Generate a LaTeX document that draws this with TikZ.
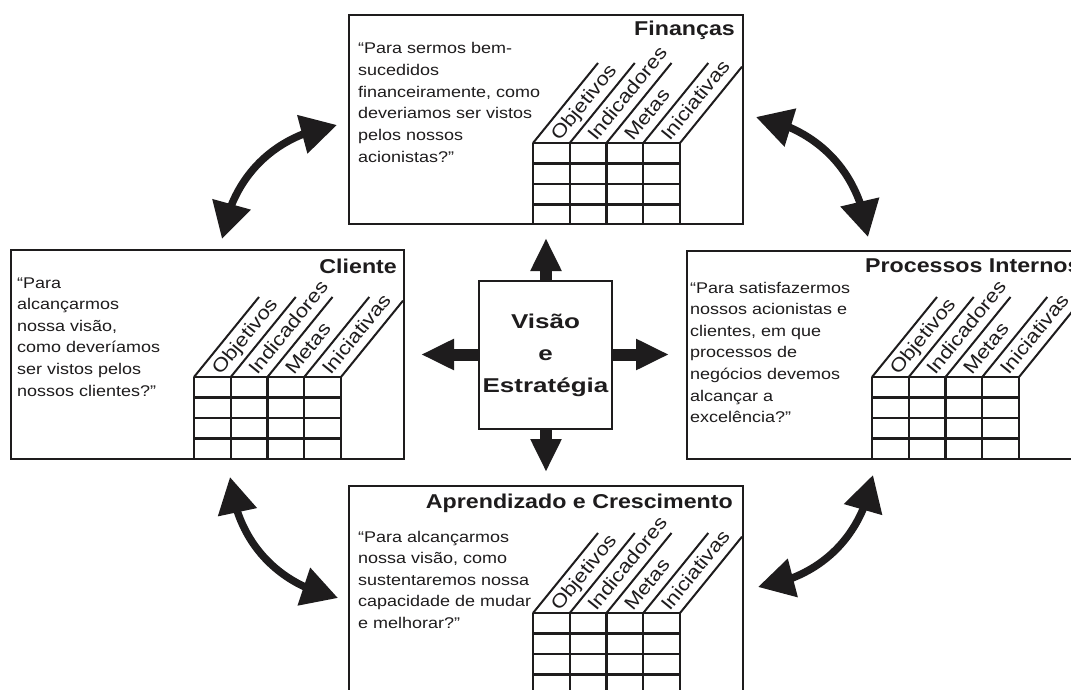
\documentclass[tikz,border=0pt]{standalone}
\usepackage{fontspec}
\setmainfont[FakeStretch=1.16]{Liberation Sans}
\newfontfamily\ctrfont[FakeStretch=1.3]{Liberation Sans}
\usetikzlibrary{arrows.meta,bending}
\definecolor{ink}{RGB}{30,28,29}
\tikzset{
  panel/.style={draw=ink, line width=2.4pt, fill=white, anchor=north west},
  gridline/.style={draw=ink, line width=2.4pt},
  slantline/.style={draw=ink, line width=2pt},
  ptitle/.style={font=\fontsize{20}{24}\selectfont\bfseries, text=ink, inner sep=0pt},
  question/.style={font=\fontsize{15.5}{21.6}\selectfont, text=ink, align=left, inner sep=0pt, anchor=base west},
  collabel/.style={font=\fontsize{19}{22}\selectfont, text=ink, inner sep=0pt, rotate=50.9, anchor=base west},
  blockarrow/.style={draw=ink, line width=12pt, -{Triangle[length=33pt,width=29pt]}},
  curvearrow/.style={draw=ink, line width=7.5pt, {Triangle[length=36pt,width=38pt]}-{Triangle[length=36pt,width=38pt]}},
}
% #1 grid x, #2 grid y, #3 panel right x, #4 panel bottom y, #5 name prefix
\newcommand\bscgrid[5]{%
  \foreach \k in {0,1,2,3} \draw[gridline] (#1,#2+\k*20.5) -- (#1+147,#2+\k*20.5);
  \foreach \c in {0,1,2,3,4} \draw[gridline] (#1+\c*36.75,#2) -- (#1+\c*36.75,#4);
  \foreach \c in {0,1,2,3} \draw[slantline] (#1+\c*36.75,#2) -- ++(65,-80);
  \draw[slantline] (#1+147,#2) -- ({#3},{#2-(#3-#1-147)*80/65});
  \node[collabel] (#5-obj) at ({#1+0.5*36.75+8},{#2-1}) {Objetivos};
  \node[collabel] (#5-ind) at ({#1+1.5*36.75+8},{#2-1}) {Indicadores};
  \node[collabel] (#5-met) at ({#1+2.5*36.75+8},{#2-1}) {Metas};
  \node[collabel] (#5-ini) at ({#1+3.5*36.75+8},{#2-1}) {Iniciativas};
}
\begin{document}
\begin{tikzpicture}[x=1pt,y=-1pt]
\useasboundingbox (0,0) rectangle (1071,690);
\fill[white] (0,0) rectangle (1071,690);
\clip (0,0) rectangle (1071,690);

% panels
\node[panel, minimum width=394pt, minimum height=209pt] (fin) at (348,14) {};
\node[panel, minimum width=393pt, minimum height=209pt] (cli) at (10,249) {};
\node[panel, minimum width=394pt, minimum height=208pt] (pro) at (686,250) {};
\node[panel, minimum width=394pt, minimum height=240pt] (apr) at (348,485) {};

% Finanças (anchor = baseline of last line)
\node[ptitle, anchor=base east] (fin-t) at (735,36) {Finanças};
\node[question] (fin-q) at (358,162) {“Para sermos bem-\\sucedidos\\financeiramente, como\\deveriamos ser vistos\\pelos nossos\\acionistas?”};
\bscgrid{533}{143}{742}{223}{fin}

% Cliente
\node[ptitle, anchor=base east] (cli-t) at (397,273) {Cliente};
\node[question] (cli-q) at (17,396) {“Para\\alcançarmos\\nossa visão,\\como deveríamos\\ser vistos pelos\\nossos clientes?”};
\bscgrid{194}{377}{403}{458}{cli}

% Processos Internos
\node[ptitle, anchor=base west] (pro-t) at (865,272) {Processos Internos};
\node[question] (pro-q) at (690,422.6) {“Para satisfazermos\\nossos acionistas e\\clientes, em que\\processos de\\negócios devemos\\alcançar a\\excelência?”};
\bscgrid{872}{377}{1080}{458}{pro}

% Aprendizado e Crescimento
\node[ptitle, anchor=base east] (apr-t) at (733,508) {Aprendizado e Crescimento};
\node[question] (apr-q) at (358,628.4) {“Para alcançarmos\\nossa visão, como\\sustentaremos nossa\\capacidade de mudar\\e melhorar?”};
\bscgrid{533}{613}{742}{725}{apr}

% centre
\coordinate (upT) at (546,238);
\coordinate (dnT) at (546,472);
\coordinate (lfT) at (421,354.5);
\coordinate (rtT) at (669,354.5);
\node[draw=ink, line width=2.4pt, fill=white, minimum width=133pt, minimum height=148pt,
      align=center, text=ink, font=\ctrfont\fontsize{20}{32}\selectfont\bfseries] (vis) at (545.5,355) {Visão\\e\\Estratégia};
\draw[blockarrow] (vis.north -| upT) -- (upT);
\draw[blockarrow] (vis.south -| dnT) -- (dnT);
\draw[blockarrow] (vis.west |- lfT) -- (lfT);
\draw[blockarrow] (vis.east |- rtT) -- (rtT);

% curved double arrows
\coordinate (tl1) at (222,239); \coordinate (tl2) at (337,125);
\coordinate (tr1) at (756,117); \coordinate (tr2) at (868,237);
\coordinate (bl1) at (230,477); \coordinate (bl2) at (338,598);
\coordinate (br1) at (873,475); \coordinate (br2) at (758,587);
\draw[curvearrow] (tl1) to[bend left=36] (tl2);
\draw[curvearrow] (tr1) to[bend left=36] (tr2);
\draw[curvearrow] (bl1) to[bend right=36] (bl2);
\draw[curvearrow] (br1) to[bend left=36] (br2);
\end{tikzpicture}
\end{document}
